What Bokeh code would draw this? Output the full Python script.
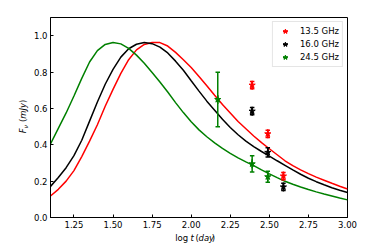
import math
from bokeh.plotting import figure
from bokeh.layouts import row, column
from bokeh.models import (Range1d, FixedTicker, PrintfTickFormatter,
                          Legend, LegendItem, ColumnDataSource)
from bokeh.core.properties import value
from bokeh.embed import file_html
from bokeh.resources import INLINE

# ---------------- data ----------------
# model light curves (log t [day], F_nu [mJy]); sampled every 0.05 in log t
curve_x = [1.10, 1.15, 1.20, 1.25, 1.30, 1.35, 1.40, 1.45, 1.50, 1.55, 1.60, 1.65, 1.70,
           1.75, 1.80, 1.85, 1.90, 1.95, 2.00, 2.05, 2.10, 2.15, 2.20, 2.25, 2.30, 2.35,
           2.40, 2.45, 2.50, 2.55, 2.60, 2.65, 2.70, 2.75, 2.80, 2.85, 2.90, 2.95, 3.00]
red_y = [0.118, 0.155, 0.200, 0.258, 0.335, 0.420, 0.510, 0.612, 0.705, 0.793, 0.868, 0.922, 0.952,
         0.963, 0.962, 0.943, 0.908, 0.868, 0.825, 0.775, 0.725, 0.672, 0.622, 0.575, 0.528, 0.488,
         0.448, 0.412, 0.378, 0.345, 0.312, 0.285, 0.262, 0.241, 0.222, 0.205, 0.188, 0.172, 0.157]
black_y = [0.171, 0.220, 0.274, 0.340, 0.425, 0.530, 0.635, 0.733, 0.815, 0.882, 0.928, 0.953, 0.963,
           0.956, 0.937, 0.905, 0.860, 0.810, 0.752, 0.695, 0.640, 0.590, 0.540, 0.495, 0.455, 0.420,
           0.390, 0.363, 0.338, 0.312, 0.287, 0.262, 0.238, 0.216, 0.197, 0.180, 0.164, 0.150, 0.137]
green_y = [0.405, 0.490, 0.575, 0.668, 0.765, 0.855, 0.918, 0.952, 0.963, 0.955, 0.930, 0.893, 0.848,
           0.797, 0.745, 0.690, 0.632, 0.577, 0.527, 0.482, 0.444, 0.410, 0.380, 0.353, 0.328, 0.306,
           0.285, 0.262, 0.240, 0.219, 0.199, 0.183, 0.168, 0.154, 0.141, 0.129, 0.118, 0.107, 0.097]

# observations
obs_red_x = [2.39, 2.49, 2.59]
obs_red_y = [0.728, 0.460, 0.228]
obs_red_err = [0.02, 0.02, 0.02]

obs_black_x = [2.39, 2.49, 2.59]
obs_black_y = [0.585, 0.358, 0.168]
obs_black_err = [0.02, 0.025, 0.02]

obs_green_x = [2.17, 2.39, 2.49]
obs_green_y = [0.649, 0.295, 0.224]
obs_green_err = [0.15, 0.045, 0.03]

series_labels = ["13.5 GHz", "16.0 GHz", "24.5 GHz"]
series_colors = ["#ff0000", "#000000", "#008000"]

x_ticks = [1.25, 1.50, 1.75, 2.00, 2.25, 2.50, 2.75, 3.00]
y_ticks = [0.0, 0.2, 0.4, 0.6, 0.8, 1.0]
x_lim = (1.1, 3.0)
y_lim = (0.0, 1.1)

# ---------------- layout (pixels) ----------------
W, H = 374, 249          # whole page
YLAB_W = 30              # strip left of the chart holding the y-axis title
XLAB_H = 17              # strip below the chart holding the x-axis title
MW, MH = W - YLAB_W, H - XLAB_H
FL, FT, FW, FH = 49 - YLAB_W, 17, 298, 200
FR, FB = MW - FL - FW, MH - FT - FH
FONT = "DejaVu Sans"
FS = "8.5px"

p = figure(width=MW, height=MH, output_backend="svg", toolbar_location=None,
           x_range=Range1d(*x_lim), y_range=Range1d(*y_lim),
           min_border_left=FL, min_border_right=FR,
           min_border_top=FT, min_border_bottom=FB)
p.xgrid.visible = False
p.ygrid.visible = False
p.outline_line_color = "black"
p.outline_line_width = 1
p.background_fill_color = "white"
p.border_fill_color = "white"

for ax, ticks, fmt in ((p.xaxis[0], x_ticks, "%.2f"), (p.yaxis[0], y_ticks, "%.1f")):
    ax.ticker = FixedTicker(ticks=ticks)
    ax.formatter = PrintfTickFormatter(format=fmt)
    ax.major_tick_in = 3
    ax.major_tick_out = 0
    ax.minor_tick_line_color = None
    ax.axis_line_color = "black"
    ax.major_tick_line_color = "black"
    ax.major_label_text_font = FONT
    ax.major_label_text_font_size = FS
    ax.major_label_text_color = "black"
    ax.major_label_standoff = 3

# model curves
for ys, c in ((red_y, series_colors[0]), (black_y, series_colors[1]), (green_y, series_colors[2])):
    p.line(curve_x, ys, line_color=c, line_width=1.5)

# observations with error bars
items = []
for lab, c, xs, ys, es in ((series_labels[0], series_colors[0], obs_red_x, obs_red_y, obs_red_err),
                           (series_labels[1], series_colors[1], obs_black_x, obs_black_y, obs_black_err),
                           (series_labels[2], series_colors[2], obs_green_x, obs_green_y, obs_green_err)):
    lo = [y - e for y, e in zip(ys, es)]
    hi = [y + e for y, e in zip(ys, es)]
    src = ColumnDataSource(dict(x=xs, y=ys, lo=lo, hi=hi))
    p.segment(x0="x", y0="lo", x1="x", y1="hi", source=src, line_color=c, line_width=1.5)
    p.scatter(x="x", y="lo", source=src, marker="dash", size=4.5, line_color=c, line_width=1.5)
    p.scatter(x="x", y="hi", source=src, marker="dash", size=4.5, line_color=c, line_width=1.5)
    rv = p.scatter(x="x", y="y", source=src, marker="dash", angle=math.pi / 2, size=9,
                   line_color=c, line_width=1.5)
    rs = p.scatter(x="x", y="y", source=src, marker="star", size=6.5,
                   fill_color=c, line_color=c, line_width=1)
    items.append(LegendItem(label=lab, renderers=[rv, rs]))

legend = Legend(items=items, location="top_right", margin=4, padding=3, spacing=1,
                glyph_width=18, glyph_height=12, label_height=12, label_standoff=6,
                label_text_font=FONT, label_text_font_size=FS, label_text_color="black",
                label_text_baseline="middle",
                border_line_color="#cccccc", border_line_width=1,
                background_fill_color="white", background_fill_alpha=0.8)
p.add_layout(legend)


def text_strip(w, h):
    f = figure(width=w, height=h, output_backend="svg", toolbar_location=None,
               x_range=Range1d(0, w), y_range=Range1d(0, h),
               x_axis_location=None, y_axis_location=None,
               min_border=0, min_border_left=0, min_border_right=0,
               min_border_top=0, min_border_bottom=0)
    f.xgrid.visible = False
    f.ygrid.visible = False
    f.outline_line_color = None
    f.background_fill_color = "white"
    f.border_fill_color = "white"
    return f


# x-axis title "log t (day)" with t and day in italic (positions in strip pixels)
xl = text_strip(MW, XLAB_H)
x_title = [("log", 144.4, "normal"), ("t", 162.2, "italic"), ("(", 167.9, "normal"),
           ("day", 171.4, "italic"), (")", 186.9, "normal")]
for txt, px, style in x_title:
    xl.text(x=[px], y=[12], text=[txt], text_font=value(FONT), text_font_size=value(FS),
            text_font_style=style, text_align="left", text_baseline="alphabetic",
            text_color="black")

# y-axis title "F_nu (mJy)", rotated
yl = text_strip(YLAB_W, H)
y_title = [("F", 22.5, 116.2, "italic", FS), ("\u03bd", 24.5, 121.1, "italic", "6px"),
           ("(", 22.5, 127.4, "normal", FS), ("mJy", 22.5, 130.7, "italic", FS),
           (")", 22.5, 146.5, "normal", FS)]
for txt, px, py, style, fs in y_title:
    yl.text(x=[px], y=[py], text=[txt], text_font=value(FONT), text_font_size=value(fs),
            text_font_style=style, text_align="left", text_baseline="alphabetic",
            angle=math.pi / 2, text_color="black")

page = row(yl, column(p, xl, spacing=0), spacing=0)
open("out.html", "w").write(file_html(page, INLINE))
